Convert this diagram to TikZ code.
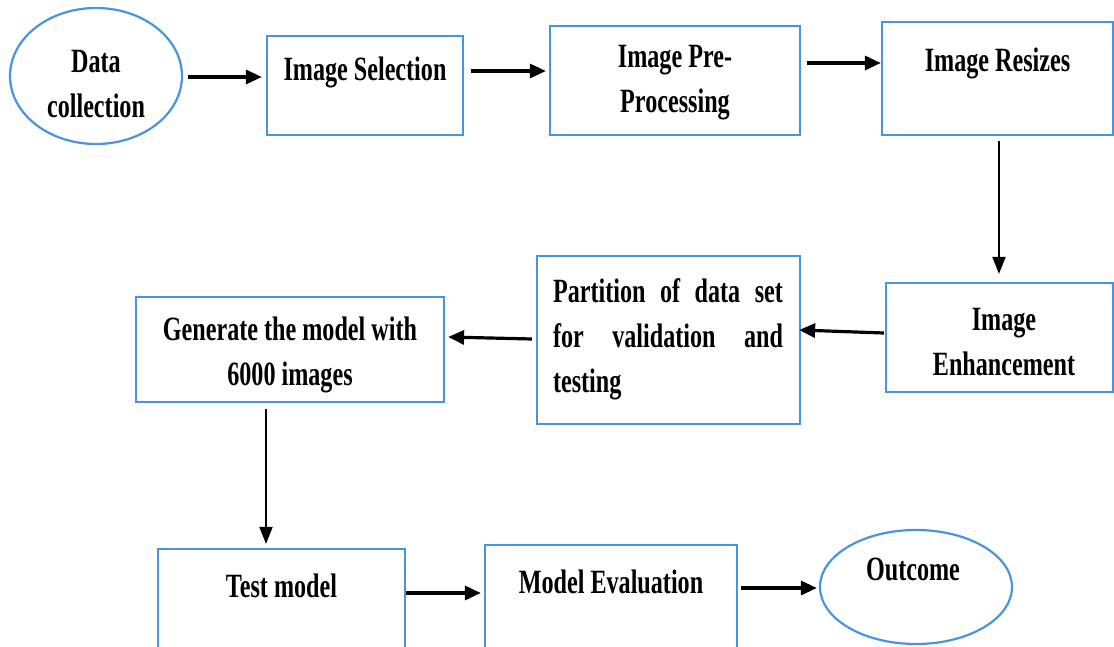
\documentclass[tikz,border=0pt]{standalone}
\usepackage{fontspec}
\newfontfamily\tnr{Liberation Serif}[FakeStretch=0.71]
\usetikzlibrary{arrows.meta,shapes.geometric}
\definecolor{boxblue}{RGB}{72,148,222}
\tikzset{
  box/.style={draw=boxblue, line width=2.2pt, rectangle, inner sep=0pt},
  oval/.style={draw=boxblue, line width=2.2pt, ellipse, inner sep=0pt},
  lbl/.style={font=\tnr\bfseries\fontsize{34}{45}\selectfont, align=center, inner sep=0pt},
  arr/.style={line width=3.2pt, -{Triangle[length=16pt,width=14pt]}},
  varr/.style={line width=2pt, -{Triangle[length=17pt,width=13pt]}},
}
\begin{document}
\begin{tikzpicture}[x=1pt,y=-1pt]
\useasboundingbox (0,0) rectangle (1114,647);
% shapes
\node[oval, minimum width=172pt, minimum height=136pt] (dc) at (96,76) {};
\node[box, minimum width=196pt, minimum height=99pt] (sel) at (365,85.5) {};
\node[box, minimum width=250pt, minimum height=109pt] (pre) at (675,80.5) {};
\node[box, minimum width=231pt, minimum height=113pt] (res) at (997.5,78.5) {};
\node[box, minimum width=227pt, minimum height=109pt] (enh) at (999.5,337.5) {};
\node[box, minimum width=263pt, minimum height=168pt] (part) at (668.5,340) {};
\node[box, minimum width=308pt, minimum height=105pt] (gen) at (290,349.5) {};
\node[box, minimum width=247pt, minimum height=120pt] (test) at (281.5,609) {};
\node[box, minimum width=252pt, minimum height=124pt] (eval) at (611,607) {};
\node[oval, minimum width=192pt, minimum height=114pt] (out) at (916,587) {};
% labels
\node[lbl] (tdc) at (96,84) {Data\\collection};
\node[lbl] (tsel) at (365,72) {Image Selection};
\node[lbl] (tpre) at (675,83) {Image Pre-\\Processing};
\node[lbl] (tres) at (997.5,63) {Image Resizes};
\node[lbl] (tenh) at (1004,342) {Image\\Enhancement};
\node[lbl, text width=230pt, align=justify] (tpart) at (668,339) {\hyphenpenalty=10000 Partition of data set\linebreak for validation and\linebreak testing};
\node[lbl] (tgen) at (290,355) {Generate the model with\\6000 images};
\node[lbl] (ttest) at (281.5,586) {Test model};
\node[lbl] (teval) at (611,582) {Model Evaluation};
\node[lbl] (tout) at (913,569) {Outcome};
% connectors
\draw[arr] (dc.east |- 0,77) ++(5,0) -- ([xshift=-4pt]sel.west |- 0,77);
\draw[arr] ([xshift=7pt]sel.east |- 0,71) -- ([xshift=-3pt]pre.west |- 0,71);
\draw[arr] ([xshift=6pt]pre.east |- 0,63) -- (res.west |- 0,63);
\draw[varr] ([yshift=-5pt]res.south -| 999,0) -- ([yshift=8pt]enh.north -| 999,0);
\draw[arr] ([xshift=-1pt]enh.west |- 0,333) -- ([xshift=-2pt]part.east |- 0,330);
\draw[arr] ([xshift=-4pt]part.west |- 0,339) -- ([xshift=3pt]gen.east |- 0,337);
\draw[varr] ([yshift=-6pt]gen.south -| 266,0) -- ([yshift=4pt]test.north -| 266,0);
\draw[arr] (test.east |- 0,593) -- ([xshift=-3pt]eval.west |- 0,593);
\draw[arr] ([xshift=3pt]eval.east |- 0,588) -- ([xshift=-2pt]out.west |- 0,588);
\end{tikzpicture}
\end{document}
